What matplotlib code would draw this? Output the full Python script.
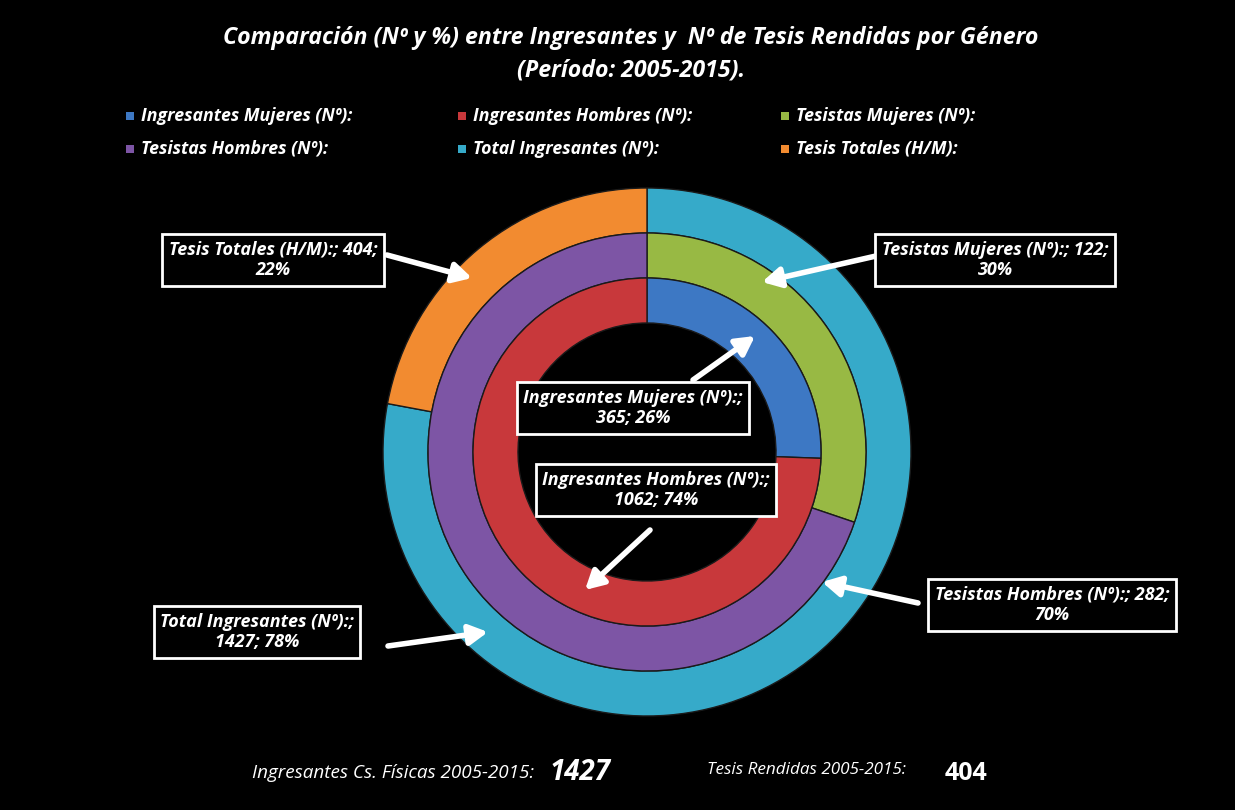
import matplotlib.pyplot as plt
from matplotlib.patches import Rectangle

# data
inner_labels = ['Ingresantes Mujeres (Nº):', 'Ingresantes Hombres (Nº):']
inner_vals = [365, 1062]
middle_labels = ['Tesistas Mujeres (Nº):', 'Tesistas Hombres (Nº):']
middle_vals = [122, 282]
outer_labels = ['Total Ingresantes (Nº):', 'Tesis Totales (H/M):']
outer_vals = [1427, 404]

inner_colors = ['#3d78c4', '#c8383b']
middle_colors = ['#98b944', '#7d55a5']
outer_colors = ['#36aac9', '#f28b30']

total_ingresantes = 1427
total_tesis = 404

plt.rcParams['font.family'] = ['Open Sans', 'DejaVu Sans']

H = 810
fig = plt.figure(figsize=(12.35, 8.1), dpi=100, facecolor='black')
ax = fig.add_axes([0, 0, 1, 1])
ax.set_facecolor('black')

# rings (pixel coordinates, y measured from bottom)
cx, cy = 647, H - 452
wp = dict(width=45, edgecolor='#1a1a1a', linewidth=1)
ax.pie(outer_vals, radius=264, center=(cx, cy), startangle=90, counterclock=False,
       colors=outer_colors, wedgeprops=wp)
ax.pie(middle_vals, radius=219, center=(cx, cy), startangle=90, counterclock=False,
       colors=middle_colors, wedgeprops=wp)
ax.pie(inner_vals, radius=174, center=(cx, cy), startangle=90, counterclock=False,
       colors=inner_colors, wedgeprops=wp)

ax.set_xlim(0, 1235)
ax.set_ylim(0, H)
ax.set_aspect('equal')
ax.axis('off')

# title
ax.text(631, H - 38, 'Comparación (Nº y %) entre Ingresantes y  Nº de Tesis Rendidas por Género',
        color='white', fontsize=16.7, fontweight='bold', style='italic', ha='center', va='center')
ax.text(631, H - 71, '(Período: 2005-2015).', color='white', fontsize=16.7,
        fontweight='bold', style='italic', ha='center', va='center')

# legend
leg_labels = [inner_labels[0], inner_labels[1], middle_labels[0],
              middle_labels[1], outer_labels[0], outer_labels[1]]
leg_colors = [inner_colors[0], inner_colors[1], middle_colors[0],
              middle_colors[1], outer_colors[0], outer_colors[1]]
col_x = [130, 462, 785]
row_y = [116, 149]
for i, (lab, col) in enumerate(zip(leg_labels, leg_colors)):
    x = col_x[i % 3]
    y = H - row_y[i // 3]
    ax.add_patch(Rectangle((x - 4, y - 4), 8, 8, facecolor=col, edgecolor='none'))
    ax.text(x + 11, y, lab, color='white', fontsize=12.8, fontweight='bold',
            style='italic', ha='left', va='center')

# data labels with arrows
def pct(v, vals):
    return round(100 * v / sum(vals))

# label, value, percent, break after name?, text centre, arrow tail, arrow head
callouts = [
    (outer_labels[1], outer_vals[1], pct(outer_vals[1], outer_vals), False, (273, 260), (387, 255), (472, 278)),
    (middle_labels[0], middle_vals[0], pct(middle_vals[0], middle_vals), False, (995, 260), (876, 256), (762, 282)),
    (inner_labels[0], inner_vals[0], pct(inner_vals[0], inner_vals), True, (633, 408), (693, 380), (755, 336)),
    (inner_labels[1], inner_vals[1], pct(inner_vals[1], inner_vals), True, (656, 490), (650, 530), (585, 590)),
    (middle_labels[1], middle_vals[1], pct(middle_vals[1], middle_vals), False, (1052, 605), (918, 603), (822, 582)),
    (outer_labels[0], outer_vals[0], pct(outer_vals[0], outer_vals), True, (257, 632), (388, 646), (488, 632)),
]
for lab, v, p, brk, (tx, ty), (ax0, ay0), (ax1, ay1) in callouts:
    if brk:
        txt = '%s;\n%d; %d%%' % (lab, v, p)
    else:
        txt = '%s; %d;\n%d%%' % (lab, v, p)
    ax.annotate('', xy=(ax1, H - ay1), xytext=(ax0, H - ay0),
                arrowprops=dict(arrowstyle='-|>,head_length=1.1,head_width=0.6',
                                color='white', lw=4, shrinkA=0, shrinkB=0))
    ax.text(tx, H - ty, txt, color='white', fontsize=13, fontweight='bold',
            style='italic', ha='center', va='center', linespacing=1.2,
            bbox=dict(boxstyle='square,pad=0.35', facecolor='black',
                      edgecolor='white', linewidth=2))

# bottom totals
ax.text(252, H - 773, 'Ingresantes Cs. Físicas 2005-2015:', color='white', fontsize=13.6,
        style='italic', ha='left', va='center')
ax.text(550, H - 773, str(total_ingresantes), color='white', fontsize=20,
        fontweight='bold', style='italic', ha='left', va='center')
ax.text(707, H - 770, 'Tesis Rendidas 2005-2015:', color='white', fontsize=12.3,
        style='italic', ha='left', va='center')
ax.text(945, H - 773, str(total_tesis), color='white', fontsize=18,
        fontweight='bold', ha='left', va='center')

fig.savefig('out.png', dpi=100, facecolor='black')
